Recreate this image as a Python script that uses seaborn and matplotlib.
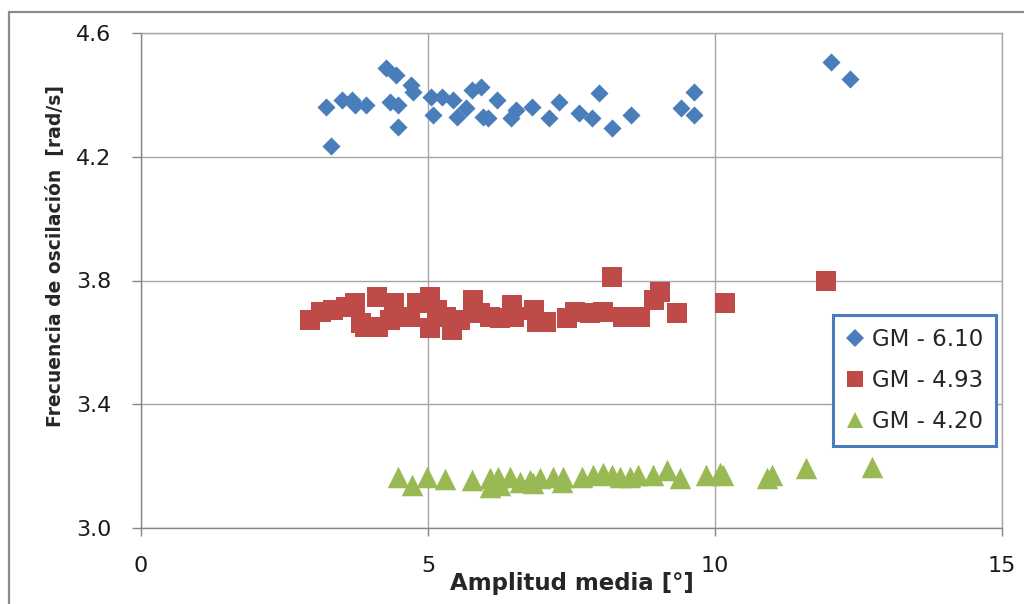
import matplotlib
matplotlib.use("Agg")
import matplotlib.pyplot as plt
import seaborn as sns
import pandas as pd
from matplotlib.lines import Line2D
from matplotlib.patches import Rectangle

# ---- data ----
series_names = ["GM - 6.10", "GM - 4.93", "GM - 4.20"]

gm610_x = [3.22, 3.31, 3.51, 3.68, 3.72, 3.92, 4.26, 4.45, 4.34, 4.47, 4.47, 4.70, 4.73,
           5.05, 5.08, 5.25, 5.43, 5.51, 5.66, 5.77, 5.92, 5.95, 6.04, 6.21, 6.44, 6.53,
           6.82, 7.11, 7.28, 7.63, 7.86, 7.98, 8.21, 8.53, 9.41, 9.64, 9.64, 12.02, 12.36]
gm610_y = [4.362, 4.235, 4.383, 4.383, 4.367, 4.367, 4.486, 4.464, 4.378, 4.367, 4.297,
           4.432, 4.410, 4.394, 4.335, 4.394, 4.383, 4.330, 4.357, 4.416, 4.426, 4.330,
           4.324, 4.383, 4.324, 4.351, 4.362, 4.324, 4.378, 4.340, 4.324, 4.405, 4.292,
           4.335, 4.357, 4.410, 4.335, 4.505, 4.450]

gm493_x = [2.94, 3.13, 3.34, 3.58, 3.73, 3.84, 3.90, 4.11, 4.13, 4.40, 4.34, 4.69, 4.80,
           5.03, 5.03, 5.15, 5.32, 5.41, 5.56, 5.79, 5.91, 6.08, 6.25, 6.46, 6.49, 6.84,
           6.90, 7.06, 7.42, 7.56, 7.82, 8.05, 8.20, 8.40, 8.69, 8.93, 9.04, 9.33, 10.17,
           11.93]
gm493_y = [3.672, 3.699, 3.705, 3.715, 3.726, 3.662, 3.651, 3.748, 3.651, 3.726, 3.672,
           3.683, 3.726, 3.748, 3.645, 3.705, 3.683, 3.640, 3.672, 3.737, 3.694, 3.683,
           3.678, 3.721, 3.683, 3.705, 3.667, 3.667, 3.678, 3.699, 3.694, 3.699, 3.812,
           3.683, 3.683, 3.737, 3.764, 3.694, 3.728, 3.800]

gm420_x = [4.48, 4.72, 4.98, 5.30, 5.77, 6.08, 6.08, 6.22, 6.25, 6.43, 6.60, 6.78, 6.83,
           6.95, 7.18, 7.36, 7.33, 7.68, 7.88, 8.05, 8.20, 8.34, 8.52, 8.66, 8.92, 9.16,
           9.39, 9.85, 10.09, 10.14, 10.90, 10.99, 11.59, 12.74]
gm420_y = [3.166, 3.139, 3.166, 3.157, 3.155, 3.161, 3.134, 3.166, 3.139, 3.166, 3.150,
           3.155, 3.145, 3.161, 3.166, 3.166, 3.150, 3.166, 3.171, 3.177, 3.171, 3.166,
           3.166, 3.171, 3.171, 3.188, 3.161, 3.171, 3.177, 3.171, 3.161, 3.171, 3.193,
           3.198]

x_ticks = [0, 5, 10, 15]
y_ticks = [3.0, 3.4, 3.8, 4.2, 4.6]
y_tick_labels = ["3.0", "3.4", "3.8", "4.2", "4.6"]

colors = {"GM - 6.10": "#4A7EBB", "GM - 4.93": "#BE4B48", "GM - 4.20": "#98B954"}
markers = {"GM - 6.10": "D", "GM - 4.93": "s", "GM - 4.20": "^"}
msizes = {"GM - 6.10": 85, "GM - 4.93": 205, "GM - 4.20": 240}

df = pd.concat([
    pd.DataFrame({"x": gm610_x, "y": gm610_y, "serie": series_names[0]}),
    pd.DataFrame({"x": gm493_x, "y": gm493_y, "serie": series_names[1]}),
    pd.DataFrame({"x": gm420_x, "y": gm420_y, "serie": series_names[2]}),
], ignore_index=True)

sns.set_style("white")
plt.rcParams["font.family"] = ["DejaVu Sans"]

fig = plt.figure(figsize=(10.24, 6.04), dpi=100)
ax = fig.add_axes([141 / 1024, 1 - 528 / 604, (1002 - 141) / 1024, (528 - 33) / 604])

for name in series_names:
    sub = df[df["serie"] == name]
    sns.scatterplot(data=sub, x="x", y="y", ax=ax, color=colors[name],
                    marker=markers[name], s=msizes[name], linewidth=0,
                    legend=False, zorder=3)

ax.set_xlim(0, 15)
ax.set_ylim(3.0, 4.6)
ax.set_xticks(x_ticks)
ax.set_yticks(y_ticks)
ax.set_yticklabels(y_tick_labels)
ax.grid(True, color="#A6A6A6", linewidth=1.0, zorder=0)
ax.set_axisbelow(True)
for side in ["left", "bottom"]:
    ax.spines[side].set_color("#868686")
    ax.spines[side].set_linewidth(1.0)
for side in ["top", "right"]:
    ax.spines[side].set_color("#A6A6A6")
    ax.spines[side].set_linewidth(1.0)

ax.tick_params(axis="y", direction="out", length=6.5, width=1, color="#868686",
               pad=15, labelsize=16, left=True, labelcolor="#1a1a1a")
ax.tick_params(axis="x", direction="out", length=6, width=1, color="#868686",
               pad=14, labelsize=16, bottom=True, labelcolor="#1a1a1a")

ax.set_xlabel("Amplitud media [°]", fontsize=16.5, fontweight="bold")
ax.set_ylabel("Frecuencia de oscilación  [rad/s]", fontsize=13.5, fontweight="bold")
ax.xaxis.set_label_coords(0.5, -0.088)
ax.xaxis.label.set_va("top")
ax.yaxis.set_label_coords(-0.088, 0.55)

handles = [Line2D([], [], linestyle="none", marker=markers[n], color=colors[n],
                  markersize={"GM - 6.10": 9.5, "GM - 4.93": 11.5, "GM - 4.20": 12}[n],
                  markeredgewidth=0)
           for n in series_names]
leg = ax.legend(handles, series_names, loc="upper left",
                bbox_to_anchor=(833 / 1024, 1 - 315 / 604), bbox_transform=fig.transFigure,
                borderaxespad=0, fontsize=16.5, frameon=True, fancybox=False,
                handlelength=0.8, handletextpad=0.35, labelspacing=0.8, borderpad=0.55)
leg.get_frame().set_edgecolor("#4A7EBB")
leg.get_frame().set_linewidth(2.2)
leg.get_frame().set_facecolor("white")
leg.get_frame().set_alpha(1)

fig.add_artist(Rectangle((9 / 1024, -0.1), 1.2, 0.98 + 0.1, transform=fig.transFigure,
                         fill=False, edgecolor="#8C8C8C", linewidth=1.6))

fig.savefig("out.png", dpi=100)
